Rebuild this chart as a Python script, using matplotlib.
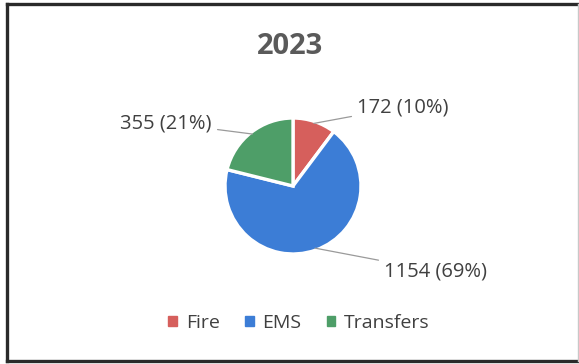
import numpy as np
import matplotlib.pyplot as plt
from matplotlib.patches import Rectangle
from matplotlib.lines import Line2D

plt.rcParams['font.family'] = ['Open Sans', 'DejaVu Sans']

# data
categories = ["Fire", "EMS", "Transfers"]
counts = [172, 1154, 355]
colors = ["#D65F5C", "#3C7DD6", "#4E9E68"]

W, H = 579, 364
fig = plt.figure(figsize=(W / 100, H / 100), dpi=100)
fig.patch.set_facecolor("white")


def fx(px):
    return px / W


def fy(py):
    return 1 - py / H


# chart border: dark on left/top/bottom, faint on the right
for (x0, y0, x1, y1, c, lw) in [(7, 4, 578, 4, "#2a2a2a", 2.4),
                                 (7, 4, 7, 361, "#2a2a2a", 2.4),
                                 (7, 361, 578, 361, "#2a2a2a", 2.4),
                                 (578, 4, 578, 361, "#c8c8c8", 1.0)]:
    fig.add_artist(Line2D([fx(x0), fx(x1)], [fy(y0), fy(y1)],
                          transform=fig.transFigure, color=c, lw=lw,
                          solid_capstyle="projecting"))

fig.text(fx(290), fy(47), "2023", ha="center", va="center",
         fontsize=21, fontweight="bold", color="#5a5a5a")

# pie axes: center ~ (293, 186), radius ~68 px
r_px = 68
cx, cy = 293, 186
ax = fig.add_axes([fx(cx - r_px), fy(cy + r_px), 2 * r_px / W, 2 * r_px / H])
wedges, _ = ax.pie(counts, colors=colors, startangle=90, counterclock=False,
                   wedgeprops=dict(edgecolor="white", linewidth=2.4))
ax.set_aspect("equal")
ax.set_xlim(-1, 1)
ax.set_ylim(-1, 1)

total = sum(counts)
# label anchor points in pixels
label_pos = [(357, 107), (384, 271), (212, 123)]
label_ha = ["left", "left", "right"]
for w, n, (lx, ly), ha in zip(wedges, counts, label_pos, label_ha):
    mid = np.deg2rad((w.theta1 + w.theta2) / 2)
    px, py = 0.97 * np.cos(mid), 0.97 * np.sin(mid)
    txt = f"{n} ({n / total:.0%})"
    ax.annotate(txt, xy=(px, py), xycoords="data",
                xytext=(fx(lx), fy(ly)), textcoords="figure fraction",
                ha=ha, va="center", fontsize=14.5, color="#404040",
                arrowprops=dict(arrowstyle="-", color="#9a9a9a", lw=0.9,
                                shrinkA=2, shrinkB=0))

handles = [Rectangle((0, 0), 1, 1, color=c) for c in colors]
fig.legend(handles, categories, loc="center", bbox_to_anchor=(fx(299), fy(323)),
           ncol=3, frameon=False, fontsize=14, handlelength=0.45,
           handleheight=0.45, handletextpad=0.45, columnspacing=1.3,
           labelcolor="#404040")

fig.savefig("out.png", dpi=100)
